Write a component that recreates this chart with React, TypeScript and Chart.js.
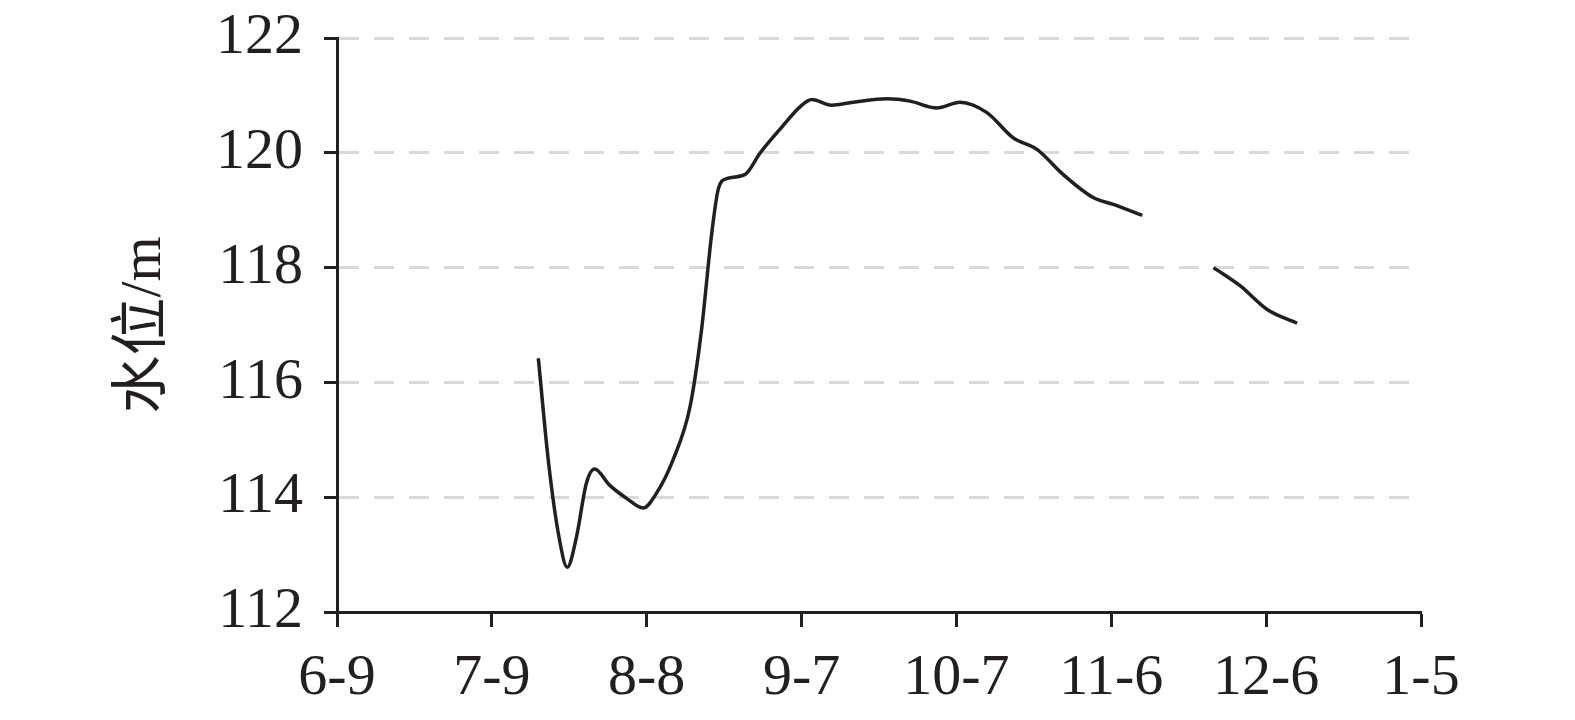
import React, { useEffect, useRef } from "react";
import { Chart, registerables } from "chart.js";

Chart.register(...registerables);

// days since 6-9
const DAYS: number[] = [
  39, 41, 43, 44.6, 46.4, 48.3, 49.9, 52.8, 56.1, 59.3, 61.9, 65.1, 68.4, 70.6, 72.6, 73.9, 75.5, 79, 82, 86,
  89.8, 92, 95.8, 100, 106.5, 111, 116.2, 120.7, 125.9, 131, 135.6, 140.7, 146.5, 150.4, 156,
  163,
  169.8, 175, 180.2, 186,
];
const LEVELS: (number | null)[] = [
  116.42, 114.59, 113.31, 112.78, 113.31, 114.24, 114.49, 114.21, 113.98, 113.81, 114.07, 114.65, 115.58, 116.9,
  118.6, 119.38, 119.55, 119.62, 120.0, 120.43, 120.81, 120.93, 120.83, 120.88, 120.94, 120.9, 120.78, 120.88,
  120.7, 120.26, 120.06, 119.62, 119.22, 119.1, 118.91,
  null,
  118.0, 117.68, 117.27, 117.03,
];
const X_TICK_LABELS: string[] = ["6-9", "7-9", "8-8", "9-7", "10-7", "11-6", "12-6", "1-5"];
const Y_TITLE = "水位/m";

const INK = "#231f20";
const FONT = '"Liberation Serif", "Times New Roman", "Noto Sans CJK SC", serif';

export default function App() {
  const ref = useRef<HTMLCanvasElement | null>(null);

  useEffect(() => {
    if (!ref.current) return;
    const data = DAYS.map((d, i) => ({ x: d, y: LEVELS[i] }));
    const chart = new Chart(ref.current, {
      type: "line",
      data: {
        datasets: [
          {
            data: data as any,
            borderColor: INK,
            borderWidth: 3.5,
            pointRadius: 0,
            fill: false,
            cubicInterpolationMode: "monotone",
            spanGaps: false,
          },
        ],
      },
      options: {
        responsive: false,
        animation: false,
        layout: { padding: { top: 38, right: 154, left: 0, bottom: 0 } },
        plugins: { legend: { display: false }, tooltip: { enabled: false } },
        scales: {
          x: {
            type: "linear",
            min: 0,
            max: 210,
            afterFit: (s: any) => {
              s.height = 108;
              s.paddingLeft = 0;
              s.paddingRight = 0;
            },
            afterBuildTicks: (s: any) => {
              s.ticks = X_TICK_LABELS.map((_, i) => ({ value: i * 30 }));
            },
            ticks: {
              callback: (_v: any, i: number) => X_TICK_LABELS[i],
              font: { family: FONT, size: 58 },
              color: INK,
              padding: 17,
              maxRotation: 0,
              autoSkip: false,
            },
            grid: {
              drawOnChartArea: false,
              drawTicks: true,
              tickLength: 15,
              tickColor: INK,
              tickWidth: 3,
            },
            border: { display: true, color: INK, width: 3 },
          },
          y: {
            min: 112,
            max: 122,
            afterFit: (s: any) => {
              s.width = 337;
              s.paddingTop = 0;
              s.paddingBottom = 0;
            },
            ticks: {
              stepSize: 2,
              font: { family: FONT, size: 58 },
              color: INK,
              padding: 21,
            },
            grid: {
              color: (ctx: any) => (ctx.tick && ctx.tick.value === 112 ? "rgba(0,0,0,0)" : "#d9d9d9"),
              lineWidth: 3,
              tickLength: 13,
              tickColor: INK,
              tickWidth: 3,
              tickBorderDash: [],
            },
            border: { display: true, color: INK, width: 3, dash: [20, 15] },
            title: {
              display: true,
              text: Y_TITLE,
              font: { family: FONT, size: 58 },
              color: INK,
              padding: { top: 110, bottom: 0 },
            },
          },
        },
      },
    });
    return () => chart.destroy();
  }, []);

  return (
    <div style={{ position: "fixed", left: 0, top: 0, width: 1575, height: 720, background: "#fff" }}>
      <canvas ref={ref} width={1575} height={720} />
    </div>
  );
}
